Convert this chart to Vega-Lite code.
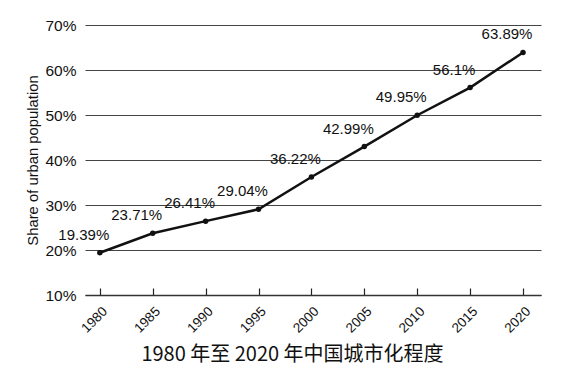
{
  "$schema": "https://vega.github.io/schema/vega-lite/v6.json",
  "autosize": {"type": "none"},
  "width": 456,
  "height": 270,
  "padding": {"left": 85, "top": 25, "right": 37, "bottom": 79},
  "background": "white",
  "config": {
    "view": {"stroke": null},
    "font": "Liberation Sans"
  },
  "data": {
    "values": [
      {"year": 1980, "share": 19.39, "label": "19.39%"},
      {"year": 1985, "share": 23.71, "label": "23.71%"},
      {"year": 1990, "share": 26.41, "label": "26.41%"},
      {"year": 1995, "share": 29.04, "label": "29.04%"},
      {"year": 2000, "share": 36.22, "label": "36.22%"},
      {"year": 2005, "share": 42.99, "label": "42.99%"},
      {"year": 2010, "share": 49.95, "label": "49.95%"},
      {"year": 2015, "share": 56.1, "label": "56.1%"},
      {"year": 2020, "share": 63.89, "label": "63.89%"}
    ]
  },
  "encoding": {
    "x": {
      "field": "year",
      "type": "quantitative",
      "scale": {"domain": [1978.6, 2021.7], "nice": false, "zero": false},
      "axis": {
        "values": [1980, 1985, 1990, 1995, 2000, 2005, 2010, 2015, 2020],
        "format": "d",
        "labelAngle": -45,
        "labelAlign": "right",
        "labelBaseline": "top",
        "labelFontSize": 13.5,
        "labelColor": "#111",
        "labelPadding": 16,
        "tickSize": -7,
        "tickColor": "#222",
        "tickWidth": 1.2,
        "domainColor": "#333",
        "domainWidth": 1.3,
        "grid": false,
        "title": "1980 年至 2020 年中国城市化程度",
        "titleFont": "Noto Sans CJK SC",
        "titleFontSize": 20,
        "titleFontWeight": "normal",
        "titleColor": "#111",
        "titleX": 207,
        "titleY": 59,
        "titleAlign": "center",
        "titleBaseline": "middle"
      }
    },
    "y": {
      "field": "share",
      "type": "quantitative",
      "scale": {"domain": [10, 70], "nice": false, "zero": false},
      "axis": {
        "values": [10, 20, 30, 40, 50, 60, 70],
        "labelExpr": "datum.value + '%'",
        "labelFontSize": 15.5,
        "labelFontWeight": "normal",
        "labelColor": "#111",
        "labelPadding": 9,
        "ticks": false,
        "domain": false,
        "grid": true,
        "gridColor": "#444",
        "gridWidth": 1.2,
        "gridOpacity": 1,
        "title": "Share of urban population",
        "titleFontSize": 14.8,
        "titleFontWeight": "normal",
        "titleColor": "#111",
        "titlePadding": 4
      }
    }
  },
  "layer": [
    {"mark": {"type": "line", "color": "#111", "strokeWidth": 2.5}},
    {"mark": {"type": "point", "filled": true, "color": "#111", "size": 30, "opacity": 1}},
    {
      "mark": {"type": "text", "fontSize": 15, "color": "#111", "dx": -16, "dy": -18, "baseline": "middle", "align": "center"},
      "encoding": {"text": {"field": "label"}}
    }
  ]
}
